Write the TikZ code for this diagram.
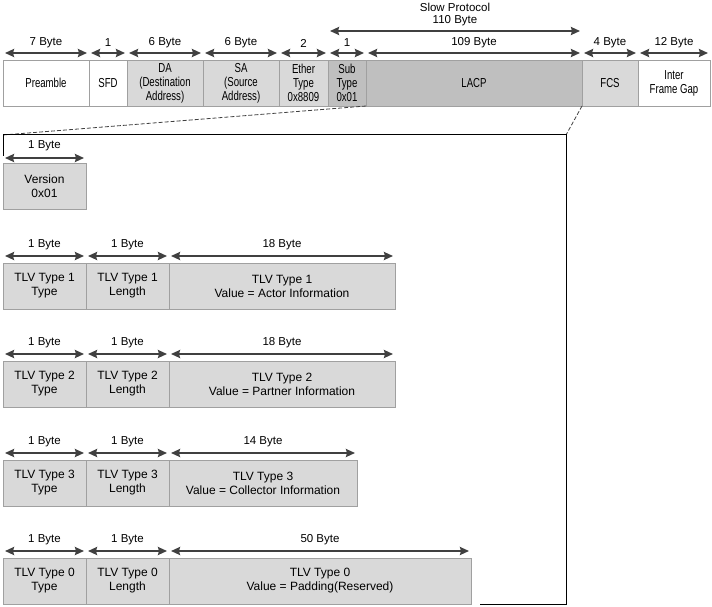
\documentclass[tikz,border=0pt]{standalone}
\usepackage{fontspec}
\setmainfont{Liberation Sans}
\newfontfamily\narrowfont[FakeStretch=0.74]{Liberation Sans}
\usetikzlibrary{arrows.meta}
\definecolor{lightfill}{HTML}{D9D9D9}
\definecolor{darkfill}{HTML}{BFBFBF}
\definecolor{edgegray}{HTML}{A0A0A0}
\definecolor{arrowgray}{HTML}{404040}
\tikzset{
  fieldbox/.style={draw=edgegray, line width=0.8pt, inner sep=0pt, outer sep=0pt, align=center, text=black},
  topfield/.style={fieldbox, font=\narrowfont\fontsize{13}{14}\selectfont},
  lowfield/.style={fieldbox, font=\fontsize{12}{14}\selectfont},
  verfield/.style={fieldbox, font=\fontsize{12}{14.5}\selectfont},
  barrow/.style={draw=arrowgray, line width=2pt, {Stealth[length=9pt,width=8pt,inset=1pt]}-{Stealth[length=9pt,width=8pt,inset=1pt]}},
  toplabel/.style={inner sep=0pt, font=\fontsize{11.5}{13}\selectfont},
  lowlabel/.style={inner sep=0pt, font=\fontsize{11.5}{13}\selectfont},
  zoomline/.style={draw=arrowgray, line width=0.8pt, dash pattern=on 4pt off 2pt},
  frameline/.style={draw=black, line width=1pt}
}
% name, x1, y1, x2, y2, fill, style, text
\newcommand{\fieldnode}[8]{%
  \pgfmathsetmacro\fw{#4-#2}\pgfmathsetmacro\fh{#5-#3}%
  \node[#7, fill=#6, minimum width=\fw pt, minimum height=\fh pt] (#1) at ({(#2+#4)/2},{(#3+#5)/2}) {#8};}
% name, x1, x2, arrow y, label y, label, style
\newcommand{\bytearrow}[7]{%
  \coordinate (#1-a) at ({#2+2},#4);
  \coordinate (#1-b) at ({#3-2},#4);
  \draw[barrow] (#1-a) -- (#1-b);
  \node[#7] (#1-l) at ({(#2+#3)/2},#5) {#6};}
\begin{document}
\begin{tikzpicture}[x=1pt,y=-1pt]
\useasboundingbox (0,0) rectangle (712,607);
% top frame row
\fieldnode{pre}{3}{60}{89}{106}{white}{topfield}{Preamble}
\fieldnode{sfd}{89}{60}{127}{106}{white}{topfield}{SFD}
\fieldnode{da}{127}{60}{203}{106}{lightfill}{topfield}{DA\\(Destination\\Address)}
\fieldnode{sa}{203}{60}{279}{106}{lightfill}{topfield}{SA\\(Source\\Address)}
\fieldnode{eth}{279}{60}{328}{106}{lightfill}{topfield}{Ether\\Type\\0x8809}
\fieldnode{sub}{328}{60}{366}{106}{darkfill}{topfield}{Sub\\Type\\0x01}
\fieldnode{lacp}{366}{60}{582}{106}{darkfill}{topfield}{LACP}
\fieldnode{fcs}{582}{60}{638}{106}{lightfill}{topfield}{FCS}
\fieldnode{ifg}{638}{60}{710}{106}{white}{topfield}{Inter\\Frame Gap}
\bytearrow{apre}{3}{89}{53}{43}{7 Byte}{toplabel}
\bytearrow{asfd}{89}{127}{53}{43}{1}{toplabel}
\bytearrow{ada}{127}{203}{53}{43}{6 Byte}{toplabel}
\bytearrow{asa}{203}{279}{53}{43}{6 Byte}{toplabel}
\bytearrow{aeth}{279}{328}{53}{43}{2}{toplabel}
\bytearrow{asub}{328}{366}{53}{43}{1}{toplabel}
\bytearrow{alacp}{366}{582}{53}{43}{109 Byte}{toplabel}
\bytearrow{afcs}{582}{638}{53}{43}{4 Byte}{toplabel}
\bytearrow{aifg}{638}{710}{53}{43}{12 Byte}{toplabel}
% slow protocol
\coordinate (slow-a) at (330,31);
\coordinate (slow-b) at (580,31);
\draw[barrow] (slow-a) -- (slow-b);
\node[toplabel] (slowname) at (455,7) {Slow Protocol};
\node[toplabel] (slowsize) at (455,21) {110 Byte};
% zoom lines and frame
\coordinate (fr-tl) at (3,135);
\coordinate (fr-tr) at (566,135);
\coordinate (fr-l) at (3,156);
\coordinate (fr-br) at (566,604);
\coordinate (fr-bl) at (480,604);
\draw[zoomline] (lacp.south west) -- (fr-tl);
\draw[zoomline] (lacp.south east) -- (fr-tr);
\draw[frameline] (fr-l) -- (fr-tl) -- (fr-tr) -- (fr-br) -- (fr-bl);
% version
\fieldnode{ver}{3}{163}{86}{209}{lightfill}{verfield}{Version\\0x01}
\bytearrow{aver}{3}{86}{158}{146}{1 Byte}{lowlabel}
% TLV rows
\foreach \tn/\top/\vr/\vsize/\vtext in {1/263/395/18/Actor Information, 2/361/395/18/Partner Information, 3/460/357/14/Collector Information, 0/558/471/50/Padding(Reserved)} {
  \pgfmathsetmacro\bot{\top+46}
  \pgfmathsetmacro\ay{\top-7}
  \pgfmathsetmacro\ly{\top-18}
  \fieldnode{t\tn}{3}{\top}{86}{\bot}{lightfill}{lowfield}{TLV Type \tn\\Type}
  \fieldnode{l\tn}{86}{\top}{169}{\bot}{lightfill}{lowfield}{TLV Type \tn\\Length}
  \fieldnode{v\tn}{169}{\top}{\vr}{\bot}{lightfill}{lowfield}{TLV Type \tn\\Value = \vtext}
  \bytearrow{at\tn}{3}{86}{\ay}{\ly}{1 Byte}{lowlabel}
  \bytearrow{al\tn}{86}{169}{\ay}{\ly}{1 Byte}{lowlabel}
  \bytearrow{av\tn}{169}{\vr}{\ay}{\ly}{\vsize\ Byte}{lowlabel}
}
\end{tikzpicture}
\end{document}
